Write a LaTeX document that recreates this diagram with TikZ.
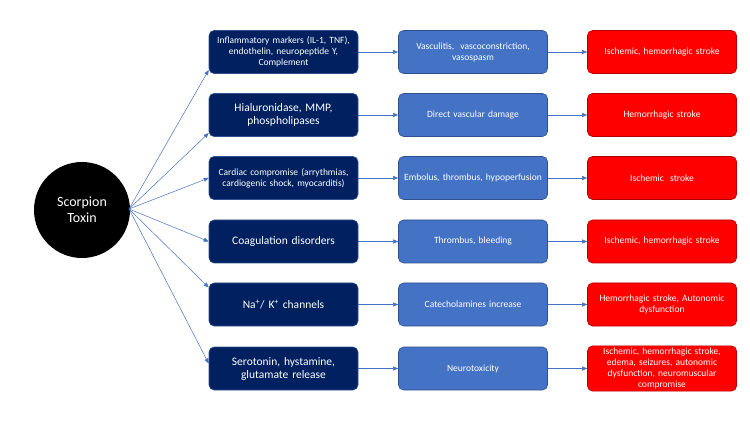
\documentclass[tikz,border=0pt]{standalone}
\usepackage{fontspec}
\setmainfont{Carlito}
\usetikzlibrary{arrows.meta}
\definecolor{navy}{HTML}{002060}
\definecolor{mblue}{HTML}{4472C4}
\definecolor{edge}{HTML}{2F528F}
\begin{document}
\begin{tikzpicture}[x=1pt,y=-1pt,
 box/.style={draw=edge,line width=0.6pt,rounded corners=5pt,minimum width=149pt,minimum height=43pt,text width=140pt,align=center,text=white,inner sep=2pt,execute at begin node={\hyphenpenalty=10000\exhyphenpenalty=10000}},
 c1/.style={box,fill=navy},
 c2/.style={box,fill=mblue,font=\fontsize{9.5}{11}\selectfont},
 c3/.style={box,fill=red,draw=red!70!black,text width=130pt,font=\fontsize{9.5}{11}\selectfont},
 sm/.style={font=\fontsize{9.5}{11}\selectfont},
 lg/.style={font=\fontsize{11.5}{13}\selectfont},
 arr/.style={draw=mblue,line width=0.5pt,-{Triangle[length=5pt,width=4pt]}}]
\useasboundingbox (0,0) rectangle (750,422);
\node[circle,fill=black,minimum size=96pt,text=white,align=center,font=\fontsize{14}{16}\selectfont] (st) at (82,210) {Scorpion\\Toxin};
\node[c1,sm] (a1) at (283.5,52) {Inflammatory markers (IL-1, TNF),\\endothelin, neuropeptide Y,\\Complement};
\node[c1,lg] (a2) at (283.5,115) {Hialuronidase, MMP,\\phospholipases};
\node[c1,sm] (a3) at (283.5,178) {Cardiac compromise (arrythmias,\\cardiogenic shock, myocarditis)};
\node[c1,lg] (a4) at (283.5,241.5) {Coagulation disorders};
\node[c1,lg] (a5) at (283.5,304.5) {Na\textsuperscript{+}/ K\textsuperscript{+} channels};
\node[c1,lg] (a6) at (283.5,368.5) {Serotonin, hystamine,\\glutamate release};
\node[c2] (b1) at (473,52) {Vasculitis,\ \ vascoconstriction,\\vasospasm};
\node[c2] (b2) at (473,115) {Direct vascular damage};
\node[c2] (b3) at (473,178) {Embolus, thrombus, hypoperfusion};
\node[c2] (b4) at (473,241.5) {Thrombus, bleeding};
\node[c2] (b5) at (473,304.5) {Catecholamines increase};
\node[c2] (b6) at (473,368.5) {Neurotoxicity};
\node[c3] (r1) at (662,52) {Ischemic, hemorrhagic stroke};
\node[c3] (r2) at (662,115) {Hemorrhagic stroke};
\node[c3] (r3) at (662,178) {Ischemic\ \ stroke};
\node[c3] (r4) at (662,241.5) {Ischemic, hemorrhagic stroke};
\node[c3] (r5) at (662,304.5) {Hemorrhagic stroke, Autonomic\\dysfunction};
\node[c3] (r6) at (662,368.5) {Ischemic, hemorrhagic stroke,\\edema, seizures, autonomic\\dysfunction, neuromuscular\\compromise};
\coordinate (o) at (129,209);
\draw[arr] (o) -- ([yshift=-18pt]a1.west);
\draw[arr] (o) -- ([yshift=-18pt]a2.west);
\draw[arr] (o) -- (a3.west);
\draw[arr] (o) -- (a4.west);
\draw[arr] (o) -- ([yshift=17pt]a5.west);
\draw[arr] (o) -- ([yshift=5pt]a6.west);
\foreach \k in {1,...,6}{
 \draw[arr] (a\k.east) -- (b\k.west);
 \draw[arr] (b\k.east) -- (r\k.west);
}
\end{tikzpicture}
\end{document}
